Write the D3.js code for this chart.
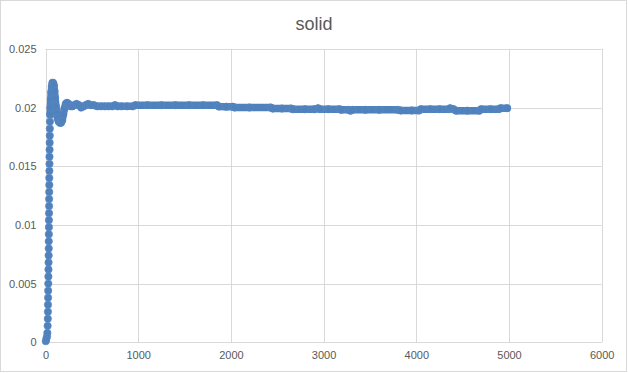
<!DOCTYPE html>
<html lang="en">
<meta charset="utf-8">
<script src="https://cdn.jsdelivr.net/npm/d3@7"></script>
<style>
  body { margin: 0; background: #fff; }
  .tick text { font-family: "Liberation Sans", Arial, sans-serif; font-size: 11px; fill: #595959; }
  .title { font-family: "Liberation Sans", Arial, sans-serif; font-size: 18px; fill: #595959; }
</style>
<body>
<script>
// series values (x, y)
var xVals = [3, 10, 16, 20, 23, 25, 26, 27, 28, 29, 30, 31, 32, 33, 34, 35, 35, 36, 37, 37,
  38, 39, 39, 40, 41, 41, 42, 43, 43, 44, 45, 46, 47, 48, 50,
  53, 57, 62, 68, 75, 82, 90, 97, 104, 112, 120, 130, 142, 155, 168, 180, 192, 204, 218, 232,
  250, 270, 290, 310, 335, 360, 385, 410, 435, 460, 490, 520, 560, 600, 640, 680, 720, 750, 780,
  820, 880, 940, 970, 1100, 1250, 1400, 1550, 1700, 1850, 1870, 1950, 2020, 2040, 2200, 2430,
  2450, 2550, 2650, 2670, 2800, 2900, 2940, 2960, 3050, 3170, 3190, 3270, 3290, 3310, 3450,
  3600, 3800, 3830, 3950, 4030, 4050, 4150, 4250, 4350, 4365, 4400, 4430, 4550, 4680, 4700,
  4800, 4890, 4910, 4980];
var yVals = [0.0001, 0.0003, 0.0005, 0.0008, 0.0014, 0.0020, 0.0026, 0.0032, 0.0038, 0.0044,
  0.0050, 0.0056, 0.0062, 0.0068, 0.0074, 0.0080, 0.0086, 0.0092, 0.0098, 0.0104,
  0.0110, 0.0116, 0.0122, 0.0128, 0.0134, 0.0140, 0.0146, 0.0152, 0.0158, 0.0164, 0.0170,
  0.0176, 0.0182, 0.0188, 0.0194,
  0.0200, 0.0207, 0.0213, 0.0218, 0.0221, 0.0221, 0.0219, 0.0214, 0.0208, 0.0201, 0.0195,
  0.0191, 0.0188, 0.0187, 0.0187, 0.0189, 0.0194, 0.0199, 0.0203, 0.0204,
  0.0203, 0.0201, 0.0201, 0.0202, 0.0203, 0.0202, 0.0200, 0.0201, 0.0202, 0.0203, 0.0202,
  0.0202, 0.0201, 0.0201, 0.0201, 0.0201, 0.0201, 0.0202, 0.0201,
  0.0201, 0.0201, 0.0201, 0.0202, 0.0202, 0.0202, 0.0202, 0.0202, 0.0202, 0.0202, 0.02008,
  0.02007, 0.02007, 0.0200, 0.0200, 0.0200,
  0.01991, 0.01991, 0.01991, 0.01985, 0.01985, 0.01985, 0.01993, 0.01986, 0.01986, 0.01986,
  0.0198, 0.0198, 0.01973, 0.0198, 0.0198,
  0.0198, 0.0198, 0.01975, 0.01975, 0.01975, 0.01986, 0.01986, 0.01986, 0.01986, 0.01993,
  0.01986, 0.01973, 0.01973, 0.01973, 0.01986,
  0.01986, 0.01986, 0.01994, 0.01994];

var xTicks = [0, 1000, 2000, 3000, 4000, 5000, 6000];
var yTicks = [0, 0.005, 0.01, 0.015, 0.02, 0.025];
var chartTitle = "solid";

var points = xVals.map(function(d, i){ return {x: d, y: yVals[i]}; });

var W = 628, H = 373;
var svg = d3.select("body").append("svg")
  .attr("width", W)
  .attr("height", H);

// outer chart border
svg.append("rect")
  .attr("x", 0.5).attr("y", 0.5)
  .attr("width", W - 2).attr("height", H - 2)
  .attr("fill", "#fff")
  .attr("stroke", "#d9d9d9");

svg.append("text")
  .attr("class", "title")
  .attr("x", 314)
  .attr("y", 30)
  .attr("text-anchor", "middle")
  .text(chartTitle);

var x = d3.scaleLinear().domain([0, 6000]).range([45.5, 601.7]);
var y = d3.scaleLinear().domain([0, 0.025]).range([342.3, 48.8]);

// gridlines
svg.append("g")
  .selectAll("line.h")
  .data(yTicks)
  .enter().append("line")
  .attr("x1", x(0)).attr("x2", x(6000))
  .attr("y1", function(d){ return Math.round(y(d)) + 0.5; })
  .attr("y2", function(d){ return Math.round(y(d)) + 0.5; })
  .attr("stroke", "#d9d9d9");

svg.append("g")
  .selectAll("line.v")
  .data(xTicks)
  .enter().append("line")
  .attr("y1", y(0)).attr("y2", y(0.025))
  .attr("x1", function(d){ return Math.round(x(d)) + 0.5; })
  .attr("x2", function(d){ return Math.round(x(d)) + 0.5; })
  .attr("stroke", "#d9d9d9");

// axes (labels only)
var xAxis = d3.axisBottom(x).tickValues(xTicks).tickSize(0).tickPadding(9).tickFormat(d3.format("d"));
var yAxis = d3.axisLeft(y).tickValues(yTicks).tickSize(0).tickPadding(9).tickFormat(function(d){ return d === 0 ? "0" : String(+d.toFixed(3)); });

var gx = svg.append("g").attr("class", "axis").attr("transform", "translate(0," + y(0) + ")").call(xAxis);
gx.select(".domain").remove();
var gy = svg.append("g").attr("class", "axis").attr("transform", "translate(" + x(0) + ",0)").call(yAxis);
gy.select(".domain").remove();

// dense markers merge into a band; draw it as a thick line behind them
var line = d3.line()
  .x(function(d){ return x(d.x); })
  .y(function(d){ return y(d.y); });

svg.append("path")
  .attr("d", line(points.filter(function(d){ return d.x >= 50; })))
  .attr("fill", "none")
  .attr("stroke", "#4f81bd")
  .attr("stroke-width", 7.5)
  .attr("stroke-linejoin", "round")
  .attr("stroke-linecap", "round");

svg.append("g")
  .selectAll("circle")
  .data(points)
  .enter().append("circle")
  .attr("cx", function(d){ return x(d.x); })
  .attr("cy", function(d){ return y(d.y); })
  .attr("r", 3.7)
  .attr("fill", "#4f81bd")
  .attr("stroke", "#5a8ac4")
  .attr("stroke-width", 0.6);
</script>
</body>
</html>
